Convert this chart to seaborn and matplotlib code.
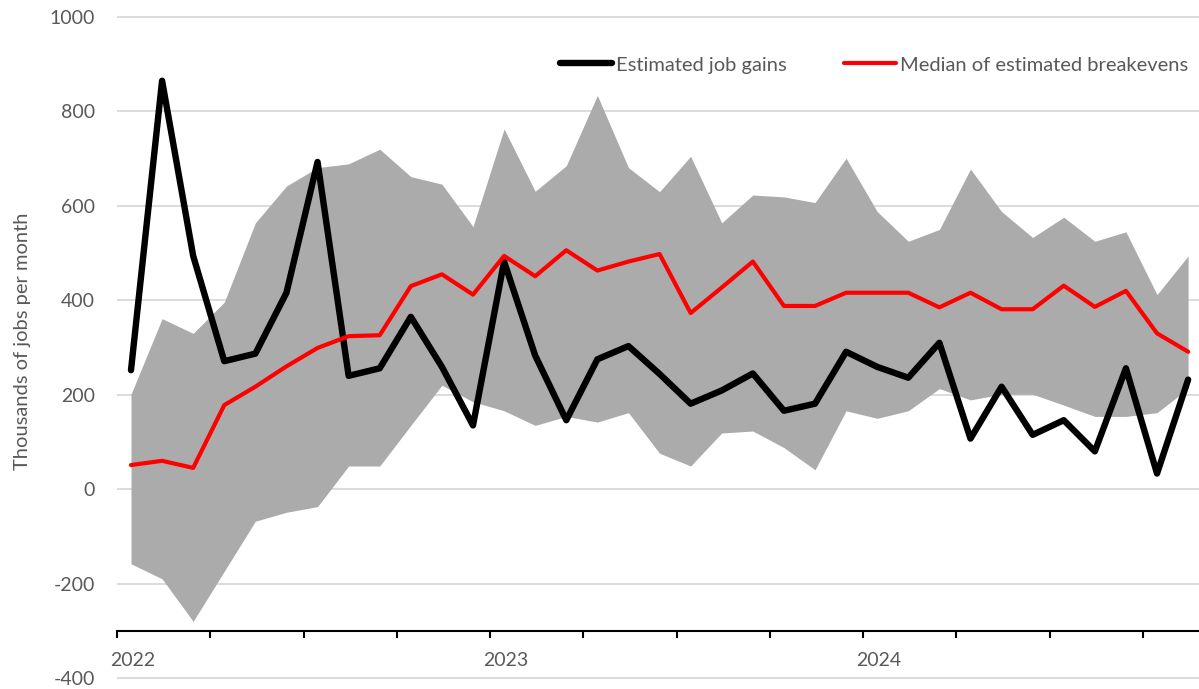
import numpy as np
import pandas as pd
import matplotlib
matplotlib.use("Agg")
import matplotlib.pyplot as plt
import seaborn as sns

# ---- data (thousands of jobs per month), Jan 2022 .. Nov 2024 ----
months = pd.period_range("2022-01", "2024-11", freq="M")
job_gains = [252, 865, 494, 271, 287, 416, 693, 240, 256, 365, 259, 135,
             482, 283, 146, 275, 303, 244, 181, 209, 245, 166, 181, 291,
             259, 236, 310, 107, 217, 115, 146, 80, 256, 33, 232]
breakeven_median = [51, 60, 45, 178, 217, 260, 299, 324, 326, 430, 455, 412,
                    494, 451, 506, 463, 482, 498, 373, 427, 482, 388, 388, 416,
                    416, 416, 385, 416, 381, 381, 431, 386, 420, 330, 291]
breakeven_high = [201, 361, 330, 396, 564, 642, 681, 689, 720, 662, 646, 556,
                  763, 631, 685, 834, 681, 630, 705, 564, 623, 619, 607, 701,
                  588, 525, 550, 678, 588, 533, 576, 525, 545, 412, 494]
breakeven_low = [-158, -190, -280, -174, -68, -49, -37, 49, 49, 135, 220, 185,
                 166, 135, 154, 142, 162, 76, 49, 119, 123, 88, 41, 166,
                 150, 166, 213, 189, 201, 201, 178, 154, 154, 162, 213]
year_labels = ["2022", "2023", "2024"]
legend_labels = ["Estimated job gains", "Median of estimated breakevens"]
y_label = "Thousands of jobs per month"

# ---- style ----
sns.set_theme(style="white")
plt.rcParams["font.family"] = ["Lato", "DejaVu Sans"]
plt.rcParams["axes.unicode_minus"] = False
TEXT = "#595959"

W, H = 1199, 689
fig = plt.figure(figsize=(W / 100, H / 100), dpi=100)
ax = fig.add_axes([117 / W, 1 - 679.4 / H, (W - 117) / W, (679.4 - 15.6) / H])

x = np.arange(len(months)) + 0.45
df = pd.DataFrame({"x": x, "gains": job_gains, "median": breakeven_median,
                   "low": breakeven_low, "high": breakeven_high})

ax.fill_between(df["x"], df["low"], df["high"], color="#ababab", lw=0, zorder=1)
sns.lineplot(data=df, x="x", y="gains", color="black", lw=4.6, ax=ax,
             label=legend_labels[0], zorder=3)
sns.lineplot(data=df, x="x", y="median", color="#ff0000", lw=3.0, ax=ax,
             label=legend_labels[1], zorder=4)

ax.set_xlim(0, 34.8)
ax.set_ylim(-403, 1003)
ax.set_yticks(np.arange(-400, 1001, 200))
ax.yaxis.grid(True, color="#d9d9d9", lw=1.3)
ax.xaxis.grid(False)
ax.set_axisbelow(True)

for s in ["left", "right", "top"]:
    ax.spines[s].set_visible(False)
ax.spines["bottom"].set_position(("data", -300))
ax.spines["bottom"].set_color("black")
ax.spines["bottom"].set_linewidth(1.5)
ax.spines["bottom"].set_zorder(5)

ax.set_xticks(np.arange(0, 34, 3))
ax.set_xticklabels([])
ax.set_xticks([0.5, 12.5, 24.5], minor=True)
ax.set_xticklabels(year_labels, minor=True)
ax.tick_params(axis="x", which="major", direction="out", length=5, width=1.5,
               color="black", bottom=True)
ax.tick_params(axis="x", which="minor", length=0, pad=15, labelsize=14,
               labelcolor=TEXT)
ax.tick_params(axis="y", length=0, pad=16, labelsize=14, labelcolor=TEXT)

ax.set_xlabel("")
ax.set_ylabel(y_label, fontsize=14.5, color=TEXT)
ax.yaxis.set_label_coords((31 - 117) / (W - 117), 0.51)

leg = ax.legend(loc="center left",
                bbox_to_anchor=((560 - 117) / (W - 117), (679.4 - 65) / (679.4 - 15.6)),
                ncol=2, frameon=False, fontsize=14.5, handlelength=2.6,
                handletextpad=0.2, columnspacing=2.8, borderpad=0,
                borderaxespad=0)
for t in leg.get_texts():
    t.set_color(TEXT)

fig.savefig("out.png", dpi=100)
